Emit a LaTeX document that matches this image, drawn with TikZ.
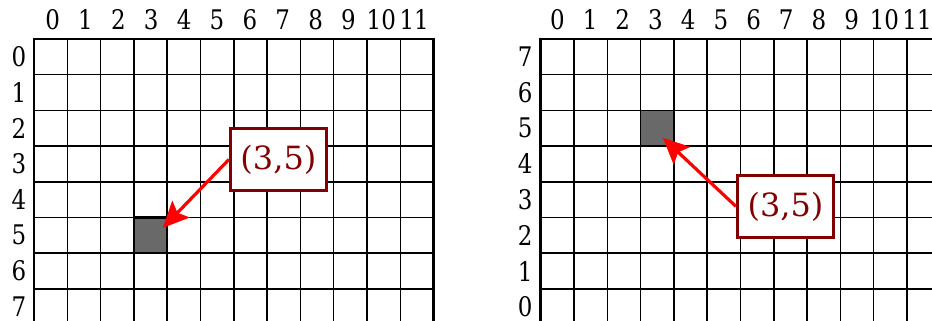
\documentclass[tikz,border=0pt]{standalone}
\usepackage{fontspec}
\setmainfont{DejaVu Serif}
\newfontfamily\numfont{DejaVu Serif}[FakeStretch=0.85]
\usetikzlibrary{positioning,arrows.meta}
\definecolor{BoxRed}{RGB}{128,0,0}
\definecolor{CellGray}{RGB}{105,105,105}

\tikzset{
  gridline/.style={line width=1.5pt},
  gridframe/.style={line width=2.8pt},
  axisnum/.style={font=\numfont\fontsize{27}{29}\selectfont,inner sep=0pt},
  callout/.style={draw=BoxRed,line width=3pt,fill=white,text=BoxRed,inner sep=0pt,
    minimum width=96pt,minimum height=62pt,font=\fontsize{32}{34}\selectfont},
  pointer/.style={-{Stealth[length=26pt,width=24pt,inset=5pt]},red,line width=3.2pt},
}

\begin{document}
\begin{tikzpicture}[x=1pt,y=1pt]
\clip (0,0) rectangle (932,321);
\fill[white] (0,0) rectangle (932,321);
% left grid, rows counted downwards
\begin{scope}[xshift=34pt,yshift=282pt,x=33.3pt,y=35.7pt]
  \fill[CellGray] (3,-5) rectangle (4,-6);
  \foreach \i in {0,...,12} \draw[gridline] (\i,0) -- (\i,-8);
  \foreach \j in {0,...,8} \draw[gridline] (0,-\j) -- (12,-\j);
  \draw[gridframe] (0,-8) -- (0,0) -- (12,0) -- (12,-8);
  \draw[gridframe] (3,-5) -- (4,-5);
  \foreach \i in {0,...,11} \node[axisnum] (colL\i) at (0.56+0.987*\i,0.55) {\i};
  \foreach \j in {0,...,7} \node[axisnum] (rowL\j) at (-0.45,-\j-0.5) {\j};
  \coordinate (hitL) at (3.87,-5.29);
  \node[callout] (boxL) at (7.34,-3.375) {(3,5)};
\end{scope}
% right grid, rows counted upwards
\begin{scope}[xshift=540.7pt,yshift=282pt,x=33.3pt,y=35.7pt]
  \fill[CellGray] (3,-2) rectangle (4,-3);
  \foreach \i in {0,...,12} \draw[gridline] (\i,0) -- (\i,-8);
  \foreach \j in {0,...,8} \draw[gridline] (0,-\j) -- (12,-\j);
  \draw[gridframe] (0,-8) -- (0,0) -- (12,0) -- (12,-8);
  \draw[gridframe] (3,-3) -- (4,-3);
  \foreach \i in {0,...,11} \node[axisnum] (colR\i) at (0.5+0.982*\i,0.55) {\i};
  \foreach \j in {0,...,7} \node[axisnum] (rowR\j) at (-0.47,\j-7.5) {\j};
  \coordinate (hitR) at (3.67,-2.77);
  \node[callout] (boxR) at (7.35,-4.69) {(3,5)};
\end{scope}
\draw[pointer] (boxL.west) -- (hitL);
\draw[pointer] (boxR.west) -- (hitR);
\end{tikzpicture}
\end{document}
